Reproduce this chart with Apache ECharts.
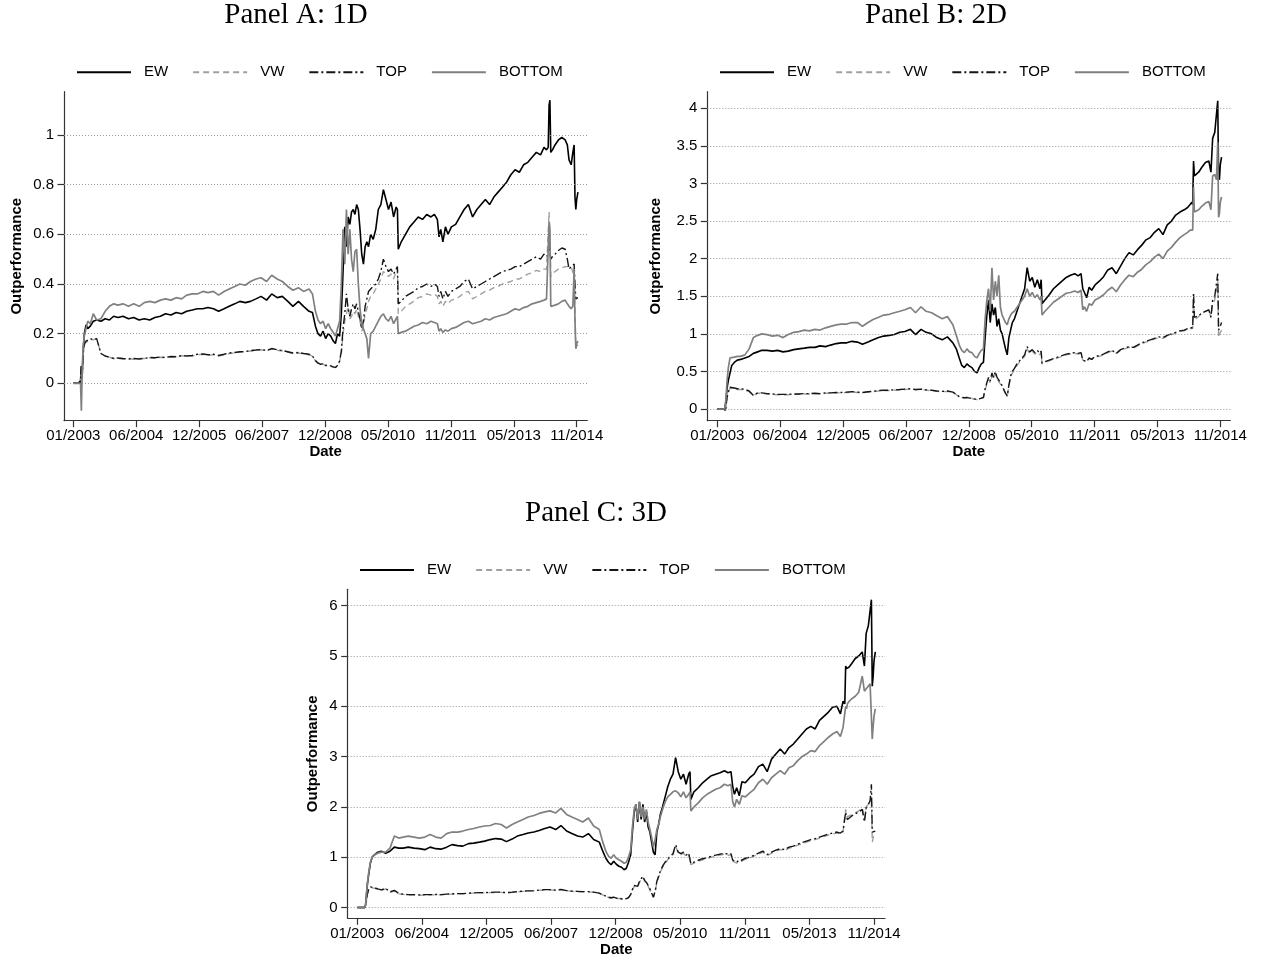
<!DOCTYPE html>
<html><head><meta charset="utf-8">
<script src="https://cdn.jsdelivr.net/npm/echarts@6/dist/echarts.min.js"></script>
<style>html,body{margin:0;padding:0;background:#fff}#c{width:1263px;height:959px}</style>
</head><body><div id="c"></div>
<script>
// ---- data (dates in decimal years) ----
const dates = [2003.00,2003.12,2003.17,2003.19,2003.21,2003.23,2003.26,2003.30,2003.34,2003.40,2003.47,
2003.55,2003.65,2003.75,2003.85,2003.95,2004.05,2004.17,2004.30,2004.42,2004.55,2004.67,2004.80,2004.92,2005.05,2005.17,2005.30,2005.42,2005.55,2005.67,2005.80,2005.92,2006.05,2006.17,2006.30,2006.42,2006.55,2006.67,2006.80,2006.92,2007.05,2007.17,2007.30,2007.42,2007.55,2007.67,2007.80,2007.92,2008.05,2008.17,2008.30,2008.42,2008.55,
2008.63,2008.70,2008.76,2008.82,2008.88,2008.94,2009.00,2009.06,2009.12,2009.17,2009.22,2009.27,2009.31,2009.35,2009.39,2009.43,2009.47,2009.51,2009.55,2009.59,2009.63,2009.67,2009.71,2009.75,2009.79,2009.83,2009.87,2009.91,2009.95,2010.00,2010.06,2010.12,2010.18,2010.24,2010.30,2010.36,2010.42,2010.48,2010.54,2010.60,2010.63,2010.65,
2010.72,2010.82,2010.92,2011.02,2011.12,2011.22,2011.32,2011.42,2011.50,2011.57,2011.61,2011.65,2011.70,2011.76,2011.82,2011.90,2012.00,2012.10,2012.20,2012.30,2012.40,2012.50,2012.60,2012.70,2012.80,2012.90,2013.00,2013.10,2013.20,2013.30,2013.40,2013.50,2013.60,2013.70,2013.80,2013.90,2014.00,2014.08,2014.14,
2014.18,2014.20,2014.22,2014.24,2014.28,2014.34,2014.42,2014.50,2014.58,2014.63,2014.67,2014.72,2014.76,2014.79,2014.81,2014.83,2014.85,2014.88];

const tickDates = [2003.000,2004.481,2005.962,2007.444,2008.925,2010.406,2011.887,2013.369,2014.850];
const tickLabels = ['01/2003','06/2004','12/2005','06/2007','12/2008','05/2010','11/2011','05/2013','11/2014'];
const yTicksA = [0,0.2,0.4,0.6,0.8,1];
const yTicksB = [0,0.5,1,1.5,2,2.5,3,3.5,4];
const yTicksC = [0,1,2,3,4,5,6];
const seriesNames = ['EW','VW','TOP','BOTTOM'];
const panelTitles = ['Panel A: 1D','Panel B: 2D','Panel C: 3D'];

// Panel A
const ewA = [0,0,0.01,0.07,0.04,0.12,0.20,0.235,0.22,0.23,0.25,
0.255,0.25,0.26,0.255,0.27,0.265,0.27,0.26,0.265,0.255,0.26,0.255,0.265,0.27,0.28,0.275,0.285,0.28,0.29,0.295,0.30,0.30,0.305,0.30,0.29,0.30,0.31,0.32,0.33,0.325,0.33,0.34,0.35,0.335,0.36,0.345,0.35,0.33,0.31,0.33,0.31,0.29,
0.285,0.23,0.20,0.19,0.21,0.18,0.20,0.19,0.17,0.16,0.20,0.19,0.28,0.45,0.63,0.55,0.67,0.64,0.69,0.70,0.68,0.72,0.70,0.62,0.52,0.48,0.55,0.57,0.55,0.60,0.58,0.62,0.70,0.72,0.78,0.74,0.70,0.73,0.67,0.71,0.70,0.54,
0.57,0.60,0.63,0.65,0.67,0.66,0.68,0.67,0.68,0.66,0.59,0.62,0.57,0.63,0.60,0.63,0.64,0.67,0.70,0.72,0.67,0.70,0.72,0.74,0.72,0.75,0.77,0.79,0.81,0.84,0.86,0.85,0.88,0.89,0.91,0.93,0.92,0.95,0.94,
0.95,1.12,1.14,0.93,0.94,0.96,0.98,0.99,0.98,0.96,0.90,0.88,0.93,0.96,0.75,0.70,0.74,0.77];
const vwA = [0,0,0,0.05,0.02,0.11,0.155,0.165,0.17,0.175,0.175,
0.18,0.12,0.11,0.105,0.10,0.10,0.098,0.10,0.097,0.10,0.10,0.103,0.102,0.105,0.103,0.107,0.105,0.11,0.112,0.11,0.115,0.117,0.113,0.115,0.11,0.115,0.12,0.122,0.125,0.127,0.13,0.132,0.135,0.13,0.138,0.133,0.13,0.125,0.12,0.122,0.118,0.115,
0.11,0.09,0.08,0.075,0.078,0.07,0.072,0.068,0.065,0.063,0.07,0.09,0.12,0.20,0.25,0.28,0.31,0.26,0.27,0.29,0.28,0.30,0.27,0.25,0.21,0.23,0.28,0.30,0.33,0.35,0.36,0.38,0.40,0.42,0.45,0.44,0.43,0.44,0.42,0.45,0.46,0.28,
0.29,0.31,0.32,0.33,0.345,0.35,0.36,0.355,0.36,0.35,0.32,0.33,0.31,0.33,0.32,0.335,0.34,0.35,0.365,0.37,0.34,0.35,0.36,0.37,0.375,0.385,0.39,0.40,0.405,0.41,0.42,0.42,0.43,0.44,0.445,0.455,0.45,0.46,0.46,
0.46,0.69,0.60,0.43,0.44,0.45,0.46,0.465,0.47,0.47,0.465,0.47,0.47,0.43,0.30,0.14,0.15,0.155];
const topA = [0,0,0,0.07,0.02,0.12,0.16,0.17,0.175,0.18,0.175,
0.18,0.12,0.11,0.105,0.10,0.102,0.10,0.098,0.10,0.098,0.10,0.104,0.103,0.106,0.104,0.108,0.107,0.112,0.11,0.112,0.117,0.118,0.115,0.117,0.112,0.117,0.122,0.124,0.127,0.128,0.132,0.134,0.136,0.132,0.14,0.135,0.132,0.127,0.122,0.124,0.12,0.117,
0.11,0.092,0.082,0.076,0.08,0.072,0.074,0.07,0.066,0.064,0.072,0.09,0.13,0.22,0.28,0.36,0.30,0.27,0.30,0.32,0.30,0.32,0.29,0.26,0.22,0.25,0.31,0.34,0.37,0.38,0.39,0.40,0.42,0.45,0.50,0.47,0.45,0.46,0.44,0.46,0.47,0.32,
0.33,0.35,0.36,0.37,0.385,0.39,0.40,0.39,0.40,0.39,0.35,0.37,0.34,0.37,0.35,0.37,0.38,0.39,0.41,0.42,0.38,0.39,0.40,0.41,0.42,0.43,0.44,0.45,0.455,0.46,0.47,0.47,0.48,0.49,0.50,0.51,0.50,0.52,0.51,
0.52,0.56,0.53,0.50,0.51,0.52,0.535,0.545,0.54,0.50,0.46,0.47,0.475,0.48,0.40,0.34,0.345,0.345];
const bottomA = [0,0,0,-0.11,0.05,0.15,0.19,0.22,0.25,0.24,0.28,
0.255,0.26,0.29,0.31,0.32,0.315,0.32,0.31,0.32,0.31,0.325,0.33,0.325,0.335,0.34,0.335,0.345,0.34,0.355,0.36,0.36,0.37,0.365,0.37,0.355,0.37,0.38,0.39,0.40,0.395,0.41,0.42,0.425,0.41,0.435,0.42,0.41,0.39,0.375,0.385,0.37,0.38,
0.36,0.29,0.255,0.24,0.25,0.22,0.24,0.22,0.205,0.19,0.22,0.25,0.40,0.62,0.48,0.70,0.52,0.62,0.50,0.45,0.53,0.54,0.40,0.30,0.24,0.22,0.20,0.18,0.10,0.20,0.21,0.23,0.25,0.27,0.28,0.26,0.25,0.27,0.24,0.26,0.27,0.20,
0.205,0.21,0.22,0.23,0.235,0.245,0.24,0.25,0.245,0.24,0.21,0.22,0.205,0.215,0.21,0.22,0.225,0.235,0.245,0.25,0.24,0.245,0.25,0.26,0.255,0.265,0.27,0.275,0.28,0.29,0.30,0.295,0.305,0.31,0.32,0.325,0.33,0.335,0.34,
0.34,0.65,0.62,0.31,0.31,0.315,0.32,0.33,0.335,0.32,0.31,0.30,0.31,0.46,0.25,0.14,0.16,0.17];

// Panel B
const ewB = [0,0,0,0.05,0.15,0.28,0.38,0.48,0.58,0.62,0.65,
0.66,0.68,0.70,0.74,0.76,0.78,0.78,0.77,0.78,0.76,0.77,0.79,0.80,0.81,0.82,0.82,0.84,0.83,0.85,0.87,0.88,0.88,0.90,0.89,0.86,0.89,0.92,0.95,0.97,0.98,0.99,1.02,1.03,1.06,0.99,1.06,1.02,1.00,0.95,0.92,0.96,0.88,
0.80,0.68,0.58,0.55,0.60,0.57,0.55,0.50,0.48,0.55,0.60,0.62,0.95,1.25,1.45,1.15,1.40,1.25,1.35,1.10,1.20,1.05,1.00,0.90,0.80,0.72,0.95,1.05,1.15,1.20,1.30,1.40,1.50,1.60,1.88,1.70,1.75,1.62,1.72,1.60,1.72,1.40,
1.45,1.52,1.60,1.65,1.70,1.75,1.78,1.80,1.77,1.80,1.60,1.55,1.48,1.62,1.58,1.65,1.70,1.76,1.85,1.88,1.80,1.90,2.00,2.08,2.05,2.12,2.18,2.25,2.28,2.35,2.40,2.32,2.45,2.50,2.58,2.62,2.65,2.68,2.72,
2.75,2.72,3.30,3.10,3.08,3.15,3.22,3.28,3.30,3.15,3.60,3.68,3.70,4.10,3.10,3.05,3.25,3.35];
const vwB = [0,0,0,-0.03,0.05,0.15,0.22,0.28,0.29,0.27,0.26,
0.26,0.25,0.23,0.18,0.21,0.21,0.20,0.195,0.19,0.19,0.19,0.195,0.195,0.20,0.20,0.205,0.20,0.21,0.21,0.215,0.215,0.22,0.225,0.22,0.215,0.225,0.23,0.24,0.245,0.245,0.25,0.255,0.26,0.265,0.255,0.26,0.25,0.245,0.235,0.23,0.235,0.22,
0.19,0.16,0.15,0.145,0.15,0.14,0.14,0.13,0.125,0.13,0.14,0.15,0.25,0.33,0.40,0.35,0.45,0.40,0.47,0.40,0.38,0.33,0.30,0.25,0.20,0.17,0.30,0.42,0.48,0.52,0.58,0.62,0.66,0.70,0.80,0.74,0.77,0.73,0.76,0.72,0.75,0.60,
0.62,0.64,0.66,0.68,0.70,0.72,0.73,0.74,0.73,0.74,0.65,0.66,0.63,0.67,0.66,0.69,0.70,0.72,0.75,0.77,0.74,0.78,0.80,0.82,0.81,0.84,0.87,0.89,0.91,0.93,0.95,0.94,0.97,0.99,1.01,1.03,1.04,1.06,1.07,
1.08,1.07,1.45,1.25,1.20,1.23,1.27,1.30,1.32,1.22,1.40,1.45,1.45,1.70,0.95,0.98,1.02,1.05];
const topB = [0,0,0,-0.03,0.06,0.16,0.23,0.29,0.30,0.28,0.27,
0.27,0.26,0.24,0.18,0.215,0.215,0.205,0.2,0.195,0.195,0.195,0.2,0.2,0.205,0.205,0.21,0.205,0.215,0.215,0.22,0.22,0.225,0.23,0.225,0.22,0.23,0.235,0.245,0.25,0.25,0.255,0.26,0.265,0.27,0.26,0.265,0.255,0.25,0.24,0.235,0.24,0.225,
0.195,0.165,0.155,0.15,0.155,0.145,0.145,0.135,0.13,0.135,0.145,0.155,0.27,0.35,0.42,0.37,0.48,0.42,0.50,0.42,0.40,0.35,0.31,0.26,0.21,0.17,0.32,0.44,0.50,0.54,0.60,0.64,0.68,0.72,0.83,0.76,0.79,0.75,0.78,0.74,0.77,0.61,
0.63,0.65,0.67,0.69,0.71,0.73,0.74,0.75,0.74,0.75,0.65,0.67,0.63,0.68,0.66,0.70,0.71,0.73,0.76,0.78,0.74,0.79,0.81,0.83,0.82,0.85,0.88,0.90,0.92,0.94,0.96,0.95,0.98,1.00,1.02,1.04,1.05,1.07,1.08,
1.09,1.08,1.55,1.22,1.20,1.24,1.28,1.30,1.32,1.22,1.45,1.50,1.50,1.80,1.05,1.05,1.10,1.15];
const bottomB = [0,0,0,0.05,0.20,0.38,0.55,0.68,0.70,0.69,0.70,
0.70,0.72,0.80,0.95,0.98,1.00,0.99,0.97,0.98,0.95,0.99,1.02,1.03,1.05,1.04,1.06,1.05,1.08,1.10,1.12,1.13,1.13,1.15,1.15,1.10,1.15,1.19,1.22,1.25,1.26,1.28,1.30,1.32,1.35,1.28,1.36,1.30,1.28,1.24,1.20,1.23,1.12,
0.98,0.85,0.78,0.75,0.80,0.76,0.75,0.70,0.68,0.74,0.78,0.80,1.20,1.45,1.60,1.30,1.88,1.45,1.70,1.50,1.78,1.35,1.25,1.20,1.15,1.12,1.20,1.25,1.28,1.30,1.35,1.40,1.45,1.50,1.60,1.50,1.55,1.48,1.52,1.45,1.50,1.25,
1.30,1.36,1.42,1.46,1.50,1.54,1.55,1.57,1.55,1.58,1.32,1.36,1.30,1.40,1.38,1.45,1.48,1.52,1.58,1.62,1.56,1.65,1.72,1.78,1.76,1.82,1.86,1.92,1.96,2.02,2.06,2.00,2.10,2.15,2.22,2.28,2.32,2.35,2.38,
2.40,2.38,2.95,2.62,2.60,2.65,2.70,2.74,2.76,2.65,3.10,3.12,3.05,3.55,2.55,2.60,2.75,2.82];

// Panel C
const ewC = [0,0,0,0.05,0.25,0.45,0.65,0.88,1.0,1.05,1.1,
1.12,1.08,1.12,1.20,1.18,1.18,1.20,1.18,1.17,1.15,1.20,1.17,1.16,1.20,1.25,1.23,1.22,1.27,1.28,1.30,1.32,1.35,1.37,1.36,1.31,1.36,1.42,1.45,1.48,1.50,1.53,1.57,1.60,1.55,1.63,1.52,1.47,1.42,1.40,1.47,1.35,1.30,
1.12,0.98,0.90,0.85,0.92,0.86,0.82,0.80,0.75,0.78,0.90,1.05,1.50,1.90,2.05,1.70,2.10,1.75,2.05,1.70,1.90,1.60,1.50,1.30,1.10,1.05,1.50,1.65,1.85,2.00,2.20,2.40,2.55,2.65,2.98,2.70,2.55,2.65,2.45,2.65,2.70,2.15,
2.30,2.38,2.48,2.55,2.62,2.65,2.68,2.72,2.68,2.70,2.40,2.25,2.38,2.22,2.50,2.48,2.58,2.65,2.80,2.85,2.70,2.95,3.05,3.15,3.05,3.18,3.25,3.35,3.45,3.55,3.60,3.55,3.72,3.80,3.88,3.98,4.00,3.85,4.10,
4.05,4.80,4.75,4.72,4.78,4.85,4.95,5.00,5.08,4.80,5.45,5.60,5.60,6.12,4.40,4.60,4.90,5.08];
const vwC = [0,0,0,0.02,0.12,0.25,0.35,0.40,0.42,0.38,0.36,
0.34,0.37,0.30,0.33,0.27,0.26,0.25,0.25,0.245,0.25,0.25,0.255,0.25,0.26,0.265,0.27,0.27,0.28,0.285,0.29,0.29,0.295,0.30,0.30,0.29,0.30,0.31,0.32,0.325,0.33,0.34,0.35,0.35,0.34,0.35,0.33,0.32,0.315,0.31,0.31,0.30,0.28,
0.25,0.22,0.20,0.19,0.20,0.18,0.18,0.17,0.165,0.17,0.19,0.25,0.35,0.42,0.45,0.40,0.50,0.52,0.60,0.52,0.48,0.42,0.35,0.28,0.20,0.30,0.50,0.60,0.70,0.80,0.88,0.95,1.00,1.05,1.22,1.08,1.05,1.08,1.02,1.06,1.04,0.85,
0.88,0.92,0.95,0.97,1.00,1.02,1.04,1.06,1.04,1.05,0.92,0.90,0.88,0.93,0.92,0.96,0.98,1.02,1.06,1.10,1.03,1.08,1.12,1.15,1.13,1.18,1.20,1.24,1.27,1.30,1.33,1.35,1.38,1.41,1.44,1.46,1.48,1.46,1.50,
1.50,1.95,1.85,1.80,1.82,1.85,1.88,1.92,1.98,1.75,2.00,2.05,2.10,2.20,1.30,1.38,1.45,1.48];
const topC = [0,0,0,0.02,0.13,0.26,0.36,0.41,0.43,0.39,0.37,
0.35,0.38,0.31,0.34,0.28,0.265,0.255,0.255,0.25,0.255,0.255,0.26,0.255,0.265,0.27,0.275,0.275,0.285,0.29,0.295,0.295,0.30,0.305,0.305,0.295,0.305,0.315,0.325,0.33,0.335,0.345,0.355,0.355,0.345,0.36,0.335,0.325,0.32,0.315,0.315,0.305,0.285,
0.255,0.225,0.205,0.195,0.205,0.185,0.185,0.175,0.17,0.175,0.195,0.26,0.36,0.44,0.47,0.42,0.52,0.55,0.62,0.54,0.50,0.44,0.37,0.29,0.21,0.32,0.52,0.62,0.72,0.82,0.90,0.97,1.02,1.07,1.25,1.10,1.07,1.10,1.04,1.08,1.06,0.87,
0.90,0.94,0.97,0.99,1.02,1.04,1.06,1.08,1.06,1.07,0.94,0.92,0.90,0.95,0.94,0.98,1.00,1.04,1.08,1.12,1.05,1.10,1.14,1.17,1.15,1.20,1.22,1.26,1.29,1.32,1.35,1.37,1.40,1.43,1.46,1.48,1.50,1.48,1.52,
1.52,1.90,1.80,1.75,1.78,1.82,1.86,1.90,1.95,1.70,1.98,2.05,2.12,2.45,1.50,1.48,1.50,1.52];
const bottomC = [0,0,0,0.05,0.25,0.48,0.68,0.90,1.0,1.05,1.08,
1.10,1.10,1.18,1.42,1.38,1.40,1.42,1.40,1.38,1.40,1.45,1.40,1.38,1.47,1.50,1.50,1.52,1.55,1.57,1.60,1.62,1.63,1.67,1.65,1.58,1.65,1.70,1.75,1.80,1.83,1.87,1.90,1.92,1.88,1.97,1.85,1.80,1.75,1.70,1.78,1.62,1.55,
1.30,1.12,1.02,0.98,1.05,0.98,0.95,0.92,0.88,0.90,1.00,1.15,1.60,1.95,2.05,1.75,2.10,1.80,2.00,1.75,1.95,1.70,1.55,1.40,1.20,1.35,1.55,1.65,1.80,1.95,2.10,2.20,2.25,2.30,2.32,2.28,2.20,2.30,2.18,2.25,2.30,1.92,
2.00,2.08,2.18,2.25,2.30,2.35,2.38,2.45,2.42,2.45,2.10,2.00,2.15,2.05,2.22,2.20,2.28,2.35,2.48,2.55,2.45,2.58,2.65,2.72,2.65,2.78,2.82,2.92,3.00,3.05,3.12,3.10,3.22,3.30,3.38,3.45,3.50,3.40,3.58,
3.55,4.00,3.95,4.05,4.10,4.15,4.20,4.28,4.60,4.30,4.35,4.40,4.45,4.42,3.35,3.60,3.80,3.95];

// ---- layout & style ----
const SANS = '"Liberation Sans", Arial, Helvetica, sans-serif';
const SERIF = '"Liberation Serif", "Times New Roman", serif';
const AX = '#333333';
const lineStyles = {
  EW:     {color:'#000000', type:'solid', width:1.6},
  VW:     {color:'#a0a0a0', type:[6,4], width:1.4},
  TOP:    {color:'#151515', type:[9,3,2,3], width:1.4},
  BOTTOM: {color:'#808080', type:'solid', width:1.7}
};
const panels = [
  {tx:296, ty:15.5, grid:{left:64, top:91.7, width:523.3, height:329},
   xMin:2002.781, xMax:2015.100, yMin:-0.1506, yMax:1.1744, yTicks:yTicksA, yGap:40, dGap:24,
   legLeft:76, legTop:64.3, data:[ewA, vwA, topA, bottomA]},
  {tx:936, ty:15.5, grid:{left:707.3, top:91.7, width:523, height:329},
   xMin:2002.764, xMax:2015.086, yMin:-0.1556, yMax:4.221, yTicks:yTicksB, yGap:44, dGap:24,
   legLeft:719, legTop:64.3, data:[ewB, vwB, topB, bottomB]},
  {tx:596, ty:513, grid:{left:347.7, top:589.3, width:537.3, height:329},
   xMin:2002.780, xMax:2015.102, yMin:-0.2147, yMax:6.326, yTicks:yTicksC, yGap:27, dGap:23,
   legLeft:359, legTop:562, data:[ewC, vwC, topC, bottomC]}
];

function xLabel(v){
  for (let i=0;i<tickDates.length;i++) if (Math.abs(tickDates[i]-v)<1e-6) return tickLabels[i];
  return '';
}

const option = {
  backgroundColor:'#ffffff',
  animation:false,
  grid:[], xAxis:[], yAxis:[], legend:[], series:[], graphic:[]
};

panels.forEach((p, pi) => {
  option.grid.push(Object.assign({containLabel:false, outerBoundsMode:'none'}, p.grid));
  option.xAxis.push({
    type:'value', gridIndex:pi, min:p.xMin, max:p.xMax,
    axisLine:{show:true, onZero:false, lineStyle:{color:AX, width:1.2}},
    axisTick:{show:true, length:6.5, customValues:tickDates, lineStyle:{color:AX, width:1.2}},
    axisLabel:{show:true, customValues:tickDates, formatter:xLabel, margin:8, fontSize:15, fontFamily:SANS, color:'#000'},
    splitLine:{show:false},
    name:'Date', nameLocation:'middle', nameGap:p.dGap,
    nameTextStyle:{fontSize:15, fontWeight:'bold', fontFamily:SANS, color:'#000'}
  });
  option.yAxis.push({
    type:'value', gridIndex:pi, min:p.yMin, max:p.yMax,
    axisLine:{show:true, onZero:false, lineStyle:{color:AX, width:1.2}},
    axisTick:{show:true, length:6.5, customValues:p.yTicks, lineStyle:{color:AX, width:1.2}},
    axisLabel:{show:true, customValues:p.yTicks, margin:10, fontSize:15, fontFamily:SANS, color:'#000'},
    splitLine:{show:false},
    name:'Outperformance', nameLocation:'middle', nameRotate:90, nameGap:p.yGap,
    nameTextStyle:{fontSize:15, fontWeight:'bold', fontFamily:SANS, color:'#000'}
  });
  option.legend.push({
    left:p.legLeft, top:p.legTop, orient:'horizontal', padding:0,
    itemWidth:54, itemHeight:12, itemGap:24, selectedMode:false,
    itemStyle:{opacity:0, borderWidth:0},
    data:seriesNames.slice(),
    textStyle:{fontSize:15, fontFamily:SANS, color:'#000', lineHeight:16, padding:[0,0,0,8]}
  });
  // dotted horizontal grid lines
  option.series.push({
    type:'line', name:'grid'+pi, xAxisIndex:pi, yAxisIndex:pi, data:[], symbol:'none', silent:true, z:1,
    markLine:{silent:true, symbol:['none','none'], label:{show:false}, animation:false,
      lineStyle:{color:'#8c8c8c', type:[1,2], width:0.9},
      emphasis:{disabled:true},
      data:p.yTicks.map(v => ({yAxis:v}))}
  });
  seriesNames.forEach((nm, j) => {
    const vals = p.data[j];
    const ls = lineStyles[nm];
    option.series.push({
      type:'line', name:nm, xAxisIndex:pi, yAxisIndex:pi,
      data:dates.map((d,k) => [d, vals[k]]),
      symbol:'none', showSymbol:false, silent:true, z:2+j,
      lineStyle:{color:ls.color, type:ls.type, width:ls.width},
      itemStyle:{color:ls.color},
      emphasis:{disabled:true}
    });
  });
  option.graphic.push({
    type:'text', x:p.tx, y:p.ty, silent:true,
    style:{text:panelTitles[pi], fill:'#000', fontSize:29, fontFamily:SERIF, align:'center', verticalAlign:'middle'}
  });
});

const chart = echarts.init(document.getElementById('c'), null, {renderer:'canvas'});
chart.setOption(option);
</script>
</body></html>
